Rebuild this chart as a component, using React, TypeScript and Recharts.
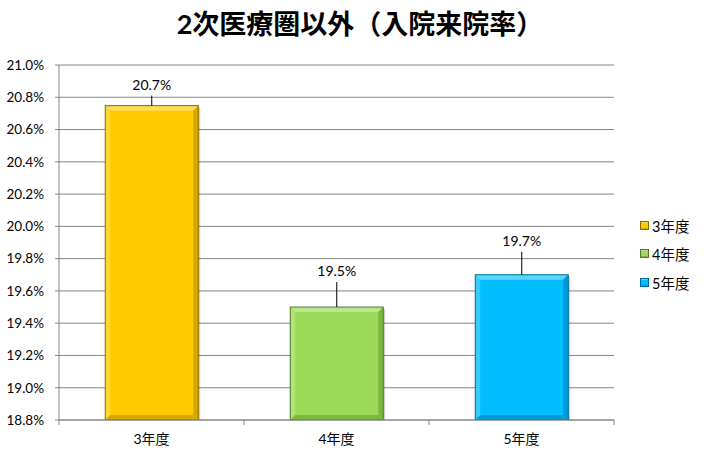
import React from 'react';
import { BarChart, Bar, XAxis, YAxis, CartesianGrid, LabelList, Legend } from 'recharts';

const title = '2次医療圏以外（入院来院率）';
const categories = ['3年度', '4年度', '5年度'];
const rates = [20.748, 19.5, 19.7];
const yTicks = [18.8, 19.0, 19.2, 19.4, 19.6, 19.8, 20.0, 20.2, 20.4, 20.6, 20.8, 21.0];

const W = 706;
const H = 456;
const X_H = 30;
const M = { top: 65, right: 92, bottom: 36 - X_H, left: 0 };
const Y_W = 59;
const FONT = "Lato, 'Noto Sans CJK JP', sans-serif";

const palette = [
  { base: '#FFCA00', light: '#FFDD55', dark: '#D9A800', edge: '#8C6D00' },
  { base: '#9CD958', light: '#BDE78E', dark: '#7DB83D', edge: '#4F7A25' },
  { base: '#00BEFF', light: '#5AD6FF', dark: '#0099D6', edge: '#006A96' },
];
const leader = [10, 25, 23];

const data = categories.map((c, i) => ({ name: c, rate: rates[i] }));

const BevelBar = (props: any) => {
  const { x, y, width: w, height: h, index } = props;
  const c = palette[index % palette.length];
  const b = 5;
  return (
    <g>
      <rect x={x + 2} y={y + 2} width={w} height={h} fill="rgba(0,0,0,0.18)" />
      <rect x={x} y={y} width={w} height={h} fill={c.base} />
      <polygon points={`${x},${y} ${x + w},${y} ${x + w - b},${y + b} ${x + b},${y + b}`} fill={c.light} />
      <polygon points={`${x},${y} ${x + b},${y + b} ${x + b},${y + h - b} ${x},${y + h}`} fill={c.light} opacity={0.6} />
      <polygon points={`${x + w},${y} ${x + w},${y + h} ${x + w - b},${y + h - b} ${x + w - b},${y + b}`} fill={c.dark} />
      <polygon points={`${x},${y + h} ${x + w},${y + h} ${x + w - b},${y + h - b} ${x + b},${y + h - b}`} fill={c.dark} />
      <rect x={x} y={y} width={w} height={h} fill="none" stroke={c.edge} strokeWidth={1} />
    </g>
  );
};

const ValueLabel = (props: any) => {
  const { x, y, width, value, index } = props;
  const cx = x + width / 2;
  const l = leader[index] ?? 10;
  return (
    <g>
      <line x1={cx} y1={y} x2={cx} y2={y - l} stroke="#000" strokeWidth={1} />
      <text x={cx} y={y - l - 6} textAnchor="middle" fontSize={14} fontFamily={FONT} fill="#000">
        {Number(value).toFixed(1)}%
      </text>
    </g>
  );
};

const band = (W - M.right - M.left - Y_W) / categories.length;

const XTick = (props: any) => {
  const { x, y, payload, index } = props;
  const left = x - band / 2;
  return (
    <g>
      <line x1={left} y1={y - 8} x2={left} y2={y - 3} stroke="#868686" />
      {index === categories.length - 1 && (
        <line x1={left + band} y1={y - 8} x2={left + band} y2={y - 3} stroke="#868686" />
      )}
      <text x={x} y={y + 16} textAnchor="middle" fontSize={14} fontFamily={FONT} fill="#000">
        {payload.value}
      </text>
    </g>
  );
};

const LegendContent = () => (
  <div style={{ fontFamily: FONT, fontSize: 14.5, color: '#000' }}>
    {categories.map((c, i) => (
      <div key={c} style={{ display: 'flex', alignItems: 'center', height: 28.5 }}>
        <svg width={9} height={9} style={{ marginRight: 3 }}>
          <rect x={0} y={0} width={9} height={9} fill={palette[i].base} />
          <polygon points="0,0 9,0 7,2 2,2" fill={palette[i].light} />
          <polygon points="0,9 9,9 7,7 2,7" fill={palette[i].dark} />
          <rect x={0.5} y={0.5} width={8} height={8} fill="none" stroke={palette[i].edge} strokeWidth={1} />
        </svg>
        <span>{c}</span>
      </div>
    ))}
  </div>
);

export default function App() {
  return (
    <div style={{ position: 'absolute', left: 0, top: 0, width: W, height: H, background: '#fff' }}>
      <div
        style={{
          position: 'absolute',
          left: 0,
          top: 6,
          width: 720,
          textAlign: 'center',
          fontFamily: FONT,
          fontWeight: 'bold',
          fontSize: 27,
          lineHeight: '36px',
          color: '#000',
          zIndex: 2,
        }}
      >
        {title}
      </div>
      <BarChart width={W} height={H} data={data} margin={M} barCategoryGap="25%">
        <CartesianGrid vertical={false} stroke="#868686" />
        <XAxis
          dataKey="name"
          height={X_H}
          tick={<XTick />}
          tickLine={false}
          axisLine={{ stroke: '#868686' }}
          interval={0}
        />
        <YAxis
          width={Y_W}
          domain={[18.8, 21.0]}
          ticks={yTicks}
          allowDataOverflow
          tickFormatter={(v: number) => v.toFixed(1) + '%'}
          tick={{ fill: '#000', fontSize: 13.5, fontFamily: FONT }}
          tickSize={4}
          tickMargin={11}
          tickLine={{ stroke: '#868686' }}
          axisLine={{ stroke: '#868686' }}
        />
        <Legend
          layout="horizontal"
          verticalAlign="middle"
          align="center"
          content={<LegendContent />}
          wrapperStyle={{ position: 'absolute', left: 640, top: 211, width: 66 }}
        />
        <Bar dataKey="rate" shape={<BevelBar />} isAnimationActive={false}>
          <LabelList dataKey="rate" content={<ValueLabel />} />
        </Bar>
      </BarChart>
    </div>
  );
}
